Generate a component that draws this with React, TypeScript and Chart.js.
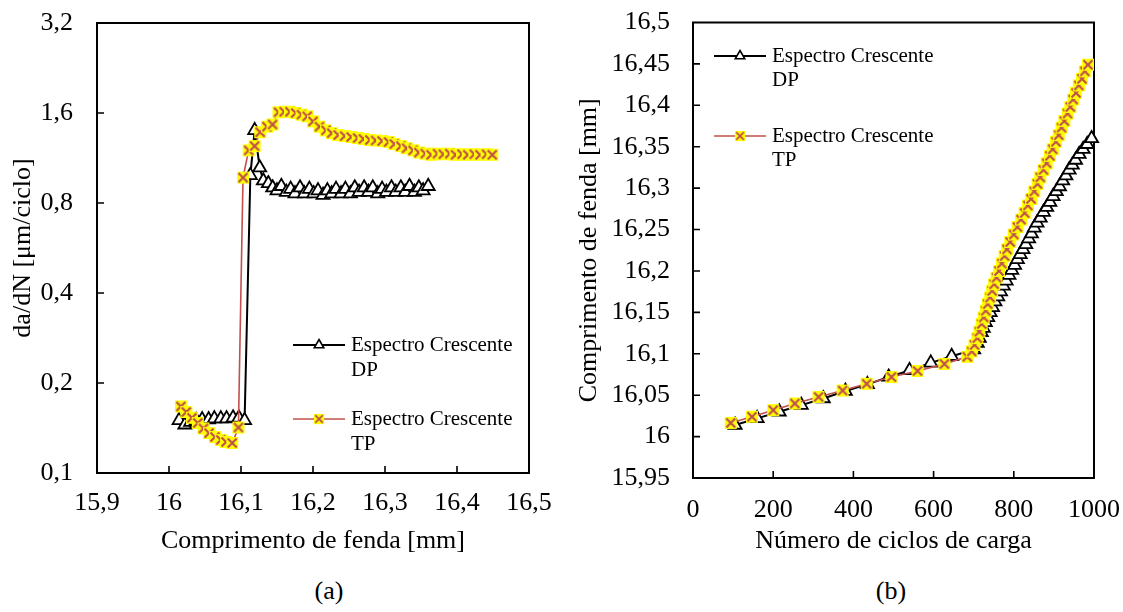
import { useEffect, useRef } from "react";
import { Chart, registerables } from "chart.js";

Chart.register(...registerables);

const FONT = "'Liberation Serif', 'Times New Roman', Times, serif";

// ---- Series "Espectro Crescente DP" ----
const dpCrack = [
  16.014, 16.022, 16.030, 16.038, 16.046, 16.055, 16.063, 16.072, 16.080, 16.089, 16.097, 16.105,
  16.113, 16.119, 16.126, 16.131, 16.138, 16.144, 16.150, 16.156, 16.163, 16.169,
  16.175, 16.182, 16.188, 16.195, 16.201, 16.207, 16.214, 16.220, 16.226, 16.232,
  16.239, 16.245, 16.252, 16.258, 16.264, 16.271, 16.277, 16.283, 16.290, 16.296,
  16.302, 16.309, 16.315, 16.322, 16.328, 16.334, 16.341, 16.347, 16.353, 16.360,
];
const dpCycles = [
  105, 160, 215, 270, 325, 380, 435, 488, 540, 593, 645, 700,
  709, 714, 719, 724, 729, 735, 741, 747, 753, 760,
  767, 774, 781, 788, 795, 802, 809, 816, 823, 830,
  837, 844, 851, 858, 866, 874, 882, 890, 898, 906,
  914, 922, 930, 938, 946, 954, 963, 973, 983, 994,
];
const dpRate = [
  0.150, 0.145, 0.148, 0.150, 0.151, 0.151, 0.152, 0.152, 0.152, 0.153, 0.153, 0.150,
  0.99, 1.40, 1.05, 0.95, 0.93, 0.90, 0.88, 0.91, 0.87, 0.89,
  0.86, 0.90, 0.86, 0.89, 0.86, 0.88, 0.85, 0.88, 0.86, 0.89,
  0.86, 0.89, 0.86, 0.90, 0.87, 0.90, 0.87, 0.90, 0.86, 0.89,
  0.87, 0.90, 0.87, 0.90, 0.87, 0.91, 0.87, 0.90, 0.88, 0.91,
];

// ---- Series "Espectro Crescente TP" ----
const tpCrack = [
  16.0165, 16.0240, 16.0319, 16.0400, 16.0479, 16.0556, 16.0638, 16.0719, 16.0792, 16.0878, 16.0964,
  16.1028, 16.1106, 16.1189, 16.1267, 16.136, 16.1438, 16.152, 16.160, 16.168, 16.176,
  16.184, 16.192, 16.200, 16.209, 16.218, 16.226, 16.235, 16.244, 16.253, 16.262,
  16.270, 16.279, 16.287, 16.296, 16.305, 16.313, 16.322, 16.330, 16.339, 16.347,
  16.356, 16.364, 16.373, 16.381, 16.390, 16.398, 16.407, 16.415, 16.424, 16.432,
  16.441, 16.449,
];
const tpCycles = [
  94, 147, 200, 254, 313, 373, 433, 495, 560, 627, 684,
  695, 702, 709, 714, 720, 725, 730, 735, 741, 746,
  751, 757, 763, 770, 777, 783, 791, 800, 809, 818,
  827, 835, 843, 851, 859, 866, 874, 882, 890, 897,
  905, 912, 919, 926, 934, 941, 948, 955, 962, 970,
  977, 985,
];
const tpRate = [
  0.167, 0.160, 0.153, 0.147, 0.141, 0.136, 0.132, 0.129, 0.127, 0.126, 0.142,
  0.973, 1.20, 1.24, 1.38, 1.44, 1.465, 1.61, 1.615, 1.615, 1.60,
  1.58, 1.56, 1.50, 1.44, 1.40, 1.37, 1.35, 1.34, 1.33, 1.32,
  1.31, 1.30, 1.295, 1.29, 1.28, 1.26, 1.24, 1.22, 1.20, 1.18,
  1.17, 1.16, 1.17, 1.165, 1.17, 1.16, 1.165, 1.16, 1.165, 1.16,
  1.165, 1.16,
];

const seriesNames = [["Espectro Crescente", "DP"], ["Espectro Crescente", "TP"]];

// ---- Axis ticks ----
const xTicksA = [15.9, 16, 16.1, 16.2, 16.3, 16.4, 16.5];
const yTicksA = [0.1, 0.2, 0.4, 0.8, 1.6, 3.2];
const xTicksB = [0, 200, 400, 600, 800, 1000];
const yTicksB = [15.95, 16, 16.05, 16.1, 16.15, 16.2, 16.25, 16.3, 16.35, 16.4, 16.45, 16.5];

const titleXA = "Comprimento de fenda [mm]";
const titleYA = "da/dN [μm/ciclo]";
const titleXB = "Número de ciclos de carga";
const titleYB = "Comprimento de fenda [mm]";

const fmt = (v: number) => String(Math.round(v * 1000) / 1000).replace(".", ",");

const TP_COLOR = "#C0504D";

function makeXMarker(): HTMLCanvasElement {
  const c = document.createElement("canvas");
  c.width = 14;
  c.height = 14;
  const g = c.getContext("2d")!;
  g.fillStyle = "#FFFF00";
  g.fillRect(1, 1, 12, 12);
  g.strokeStyle = TP_COLOR;
  g.lineWidth = 2.2;
  g.beginPath();
  g.moveTo(2.5, 2.5);
  g.lineTo(11.5, 11.5);
  g.moveTo(11.5, 2.5);
  g.lineTo(2.5, 11.5);
  g.stroke();
  return c;
}

const framePlugin = {
  id: "frame",
  beforeDatasetsDraw(chart: any) {
    const { ctx, chartArea: a } = chart;
    const xs = chart.scales.x;
    const ys = chart.scales.y;
    ctx.save();
    ctx.strokeStyle = "#000";
    ctx.lineWidth = 2;
    ctx.strokeRect(a.left, a.top, a.right - a.left, a.bottom - a.top);
    ctx.lineWidth = 1.6;
    ctx.beginPath();
    xs.ticks.forEach((t: any) => {
      const p = xs.getPixelForValue(t.value);
      if (p > a.left + 2 && p < a.right - 2) {
        ctx.moveTo(p, a.bottom);
        ctx.lineTo(p, a.bottom - 7);
      }
    });
    ys.ticks.forEach((t: any) => {
      const p = ys.getPixelForValue(t.value);
      if (p > a.top + 2 && p < a.bottom - 2) {
        ctx.moveTo(a.left, p);
        ctx.lineTo(a.left + 7, p);
      }
    });
    ctx.stroke();
    ctx.restore();
  },
};

const legendPlugin = {
  id: "seriesLegend",
  afterDraw(chart: any, _args: any, opts: any) {
    const { ctx } = chart;
    const marker: HTMLCanvasElement = opts.marker;
    ctx.save();
    ctx.font = `21px ${FONT}`;
    ctx.fillStyle = "#000";
    ctx.textBaseline = "middle";
    ctx.textAlign = "left";
    seriesNames.forEach((lines, i) => {
      const y0 = opts.y + i * opts.step;
      const x0 = opts.x;
      ctx.beginPath();
      ctx.moveTo(x0, y0);
      ctx.lineTo(x0 + 52, y0);
      if (i === 0) {
        ctx.strokeStyle = "#000";
        ctx.lineWidth = 2;
      } else {
        ctx.strokeStyle = TP_COLOR;
        ctx.lineWidth = 1.5;
      }
      ctx.stroke();
      const cx = x0 + 26;
      if (i === 0) {
        const r = 5.5;
        ctx.beginPath();
        ctx.moveTo(cx, y0 - r);
        ctx.lineTo(cx + 0.866 * r, y0 + 0.5 * r);
        ctx.lineTo(cx - 0.866 * r, y0 + 0.5 * r);
        ctx.closePath();
        ctx.fillStyle = "#fff";
        ctx.fill();
        ctx.strokeStyle = "#000";
        ctx.lineWidth = 1.6;
        ctx.stroke();
      } else {
        ctx.drawImage(marker, cx - 6, y0 - 6, 12, 12);
      }
      ctx.fillStyle = "#000";
      lines.forEach((t, j) => ctx.fillText(t, x0 + 58, y0 + j * opts.lineGap));
    });
    ctx.restore();
  },
};

function buildConfig(p: {
  dp: { x: number; y: number }[];
  tp: { x: number; y: number }[];
  marker: HTMLCanvasElement;
  xType: string;
  yType: string;
  xMin: number;
  xMax: number;
  yMin: number;
  yMax: number;
  xTicks: number[];
  yTicks: number[];
  xTitle: string;
  yTitle: string;
  yWidth: number;
  xHeight: number;
  padding: any;
  xLabelPad: number;
  yLabelPad: number;
  yTitlePad: number;
  legend: any;
}): any {
  const tickFont = { family: FONT, size: 26 };
  return {
    type: "line",
    data: {
      datasets: [
        {
          label: seriesNames[0].join(" "),
          data: p.dp,
          borderColor: "#000",
          borderWidth: 2,
          pointStyle: "triangle",
          pointRadius: 7.5,
          pointBackgroundColor: "#fff",
          pointBorderColor: "#000",
          pointBorderWidth: 1.8,
          tension: 0,
          order: 2,
          clip: false,
        },
        {
          label: seriesNames[1].join(" "),
          data: p.tp,
          borderColor: TP_COLOR,
          borderWidth: 1.6,
          pointStyle: p.marker,
          pointRadius: 6.5,
          tension: 0,
          order: 1,
          clip: false,
        },
      ],
    },
    options: {
      animation: false,
      responsive: false,
      events: [],
      layout: { padding: p.padding },
      plugins: {
        legend: { display: false },
        tooltip: { enabled: false },
        seriesLegend: { ...p.legend, marker: p.marker },
      },
      scales: {
        x: {
          type: p.xType,
          min: p.xMin,
          max: p.xMax,
          grid: { display: false, drawTicks: false },
          border: { display: false },
          afterBuildTicks: (s: any) => {
            s.ticks = p.xTicks.map((v) => ({ value: v }));
          },
          afterFit: (s: any) => {
            s.height = p.xHeight;
            s.paddingLeft = 0;
            s.paddingRight = 0;
          },
          ticks: {
            autoSkip: false,
            maxRotation: 0,
            padding: p.xLabelPad,
            color: "#000",
            font: tickFont,
            callback: (v: any) => fmt(Number(v)),
          },
          title: {
            display: true,
            text: p.xTitle,
            color: "#000",
            font: tickFont,
            padding: { top: 0, bottom: 3 },
          },
        },
        y: {
          type: p.yType,
          min: p.yMin,
          max: p.yMax,
          grid: { display: false, drawTicks: false },
          border: { display: false },
          afterBuildTicks: (s: any) => {
            s.ticks = p.yTicks.map((v) => ({ value: v }));
          },
          afterFit: (s: any) => {
            s.width = p.yWidth;
            s.paddingTop = 0;
            s.paddingBottom = 0;
          },
          ticks: {
            autoSkip: false,
            padding: p.yLabelPad,
            color: "#000",
            font: tickFont,
            callback: (v: any) => fmt(Number(v)),
          },
          title: {
            display: true,
            text: p.yTitle,
            color: "#000",
            font: tickFont,
            padding: { top: p.yTitlePad, bottom: 0 },
          },
        },
      },
    },
    plugins: [framePlugin, legendPlugin],
  };
}

export default function App() {
  const refA = useRef<HTMLCanvasElement | null>(null);
  const refB = useRef<HTMLCanvasElement | null>(null);

  useEffect(() => {
    Chart.defaults.font.family = FONT;
    const marker = makeXMarker();

    const chartA = new Chart(
      refA.current!,
      buildConfig({
        dp: dpCrack.map((a, i) => ({ x: a, y: dpRate[i] })),
        tp: tpCrack.map((a, i) => ({ x: a, y: tpRate[i] })),
        marker,
        xType: "linear",
        yType: "logarithmic",
        xMin: 15.9,
        xMax: 16.5,
        yMin: 0.1,
        yMax: 3.2,
        xTicks: xTicksA,
        yTicks: yTicksA,
        xTitle: titleXA,
        yTitle: titleYA,
        yWidth: 97,
        xHeight: 87,
        padding: { left: 0, top: 23, right: 31, bottom: 0 },
        xLabelPad: 15,
        yLabelPad: 24,
        yTitlePad: 8,
        legend: { x: 293, y: 345, step: 74, lineGap: 25 },
      })
    );

    const chartB = new Chart(
      refB.current!,
      buildConfig({
        dp: dpCycles.map((n, i) => ({ x: n, y: dpCrack[i] })),
        tp: tpCycles.map((n, i) => ({ x: n, y: tpCrack[i] })),
        marker,
        xType: "linear",
        yType: "linear",
        xMin: 0,
        xMax: 1000,
        yMin: 15.95,
        yMax: 16.5,
        xTicks: xTicksB,
        yTicks: yTicksB,
        xTitle: titleXB,
        yTitle: titleYB,
        yWidth: 133,
        xHeight: 82,
        padding: { left: 0, top: 22.5, right: 29, bottom: 0 },
        xLabelPad: 17,
        yLabelPad: 23,
        yTitlePad: 14,
        legend: { x: 154, y: 56, step: 80, lineGap: 24 },
      })
    );

    return () => {
      chartA.destroy();
      chartB.destroy();
    };
  }, []);

  const capStyle: any = {
    position: "absolute",
    fontFamily: FONT,
    fontSize: 26,
    color: "#000",
    transform: "translate(-50%, -50%)",
    whiteSpace: "nowrap",
    lineHeight: 1,
  };

  return (
    <div
      style={{
        position: "absolute",
        left: 0,
        top: 0,
        width: 1123,
        height: 612,
        background: "#fff",
        overflow: "hidden",
      }}
    >
      <canvas ref={refA} width={560} height={560} style={{ position: "absolute", left: 0, top: 0 }} />
      <canvas ref={refB} width={563} height={560} style={{ position: "absolute", left: 560, top: 0 }} />
      <div style={{ ...capStyle, left: 329, top: 591 }}>(a)</div>
      <div style={{ ...capStyle, left: 891, top: 591 }}>(b)</div>
    </div>
  );
}
